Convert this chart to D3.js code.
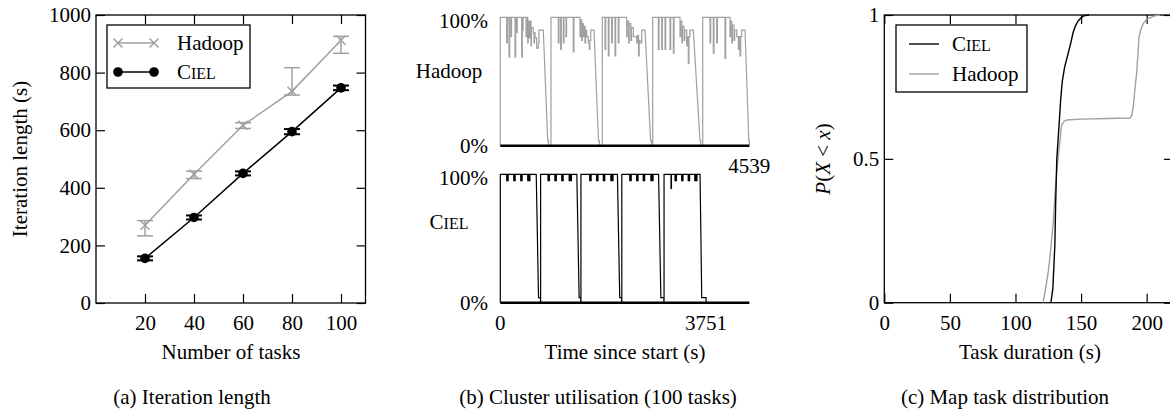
<!DOCTYPE html>
<html>
<head>
<meta charset="utf-8">
<script src="https://cdn.jsdelivr.net/npm/d3@7"></script>
<style>
  body { margin: 0; background: #fff; }
  text { font-family: "Liberation Serif", "Times New Roman", serif; font-size: 21px; fill: #000; }
</style>
</head>
<body>
<div id="chart"></div>
<script>
// (a) iteration length
var tasks = [20, 40, 60, 80, 100];
var hadoopIter = [270, 447, 617, 735, 912];
var hadoopLo = [233, 432, 606, 722, 867];
var hadoopHi = [286, 458, 626, 817, 926];
var cielIter = [155, 297, 450, 595, 747];
var cielLo = [148, 290, 443, 586, 739];
var cielHi = [162, 304, 457, 604, 755];
var iterTicks = [0, 200, 400, 600, 800, 1000];

// (b) cluster utilisation, level changes [time s, %] per cycle
var hadoopLevels = [
  [[0,100],[117,80],[129,100],[159,69],[171,100],[195,85],[205,100],[268,69],[280,100],[299,88],[309,100],[390,69],[402,100],[408,90],[416,100],[470,85],[478,100],[500,80],[508,97],[530,84],[538,97],[560,78],[568,92],[602,88],[615,80],[623,88],[633,84],[663,76],[693,80],[705,90]],
  [[924,100],[1058,80],[1070,100],[1100,75],[1112,100],[1149,80],[1161,100],[1198,85],[1208,100],[1331,73],[1343,100],[1453,85],[1463,98],[1483,82],[1493,95],[1513,85],[1523,93],[1544,80],[1556,90],[1575,85],[1604,80],[1622,75],[1634,82],[1648,90]],
  [[1859,100],[1909,75],[1921,100],[1969,70],[1981,100],[2030,80],[2042,100],[2091,70],[2103,100],[2151,80],[2163,100],[2304,85],[2314,97],[2340,80],[2350,95],[2380,82],[2392,92],[2425,85],[2487,80],[2500,86],[2520,70],[2532,82],[2547,80],[2578,90]],
  [[2778,100],[2881,75],[2893,100],[2942,75],[2954,100],[3003,75],[3015,100],[3094,75],[3106,100],[3155,72],[3167,100],[3276,85],[3286,97],[3310,80],[3320,93],[3350,82],[3362,90],[3398,78],[3410,85],[3427,64],[3439,85],[3458,90]],
  [[3690,100],[3823,80],[3835,100],[3883,72],[3895,100],[3945,80],[3957,100],[4096,68],[4108,100],[4187,85],[4197,97],[4220,80],[4230,94],[4260,82],[4272,90],[4310,85],[4339,75],[4351,85],[4370,70],[4382,85],[4400,90]]
];
// [ramp start, ramp end, back to 0]
var hadoopRamps = [[784, 864, 880], [1708, 1790, 1805], [2638, 2740, 2755], [3519, 3640, 3655], [4461, 4530, 4539]];

var cielLevels = [
  [[0,100],[117,95],[127,100],[133,95],[143,100],[245,95],[255,100],[261,95],[271,100],[372,95],[382,100],[388,95],[398,100],[500,95],[510,100],[516,95],[526,100],[532,95],[540,100]],
  [[735,100],[870,95],[880,100],[886,95],[896,100],[995,95],[1005,100],[1011,95],[1021,100],[1120,95],[1130,100],[1136,95],[1146,100],[1255,95],[1265,100],[1271,95],[1281,100],[1287,95],[1297,100]],
  [[1470,100],[1630,95],[1640,100],[1646,95],[1656,100],[1755,95],[1765,100],[1771,95],[1781,100],[1878,95],[1888,100],[1894,95],[1904,100],[2015,95],[2025,100],[2031,95],[2041,100],[2047,95],[2055,100]],
  [[2215,100],[2360,95],[2370,100],[2376,95],[2386,100],[2485,95],[2495,100],[2501,95],[2511,100],[2605,95],[2615,100],[2621,95],[2631,100],[2745,95],[2755,100],[2761,95],[2771,100],[2777,95],[2785,100]],
  [[2985,100],[3112,89],[3120,100],[3185,95],[3195,100],[3201,95],[3211,100],[3305,95],[3315,100],[3321,95],[3331,100],[3425,95],[3435,100],[3441,95],[3451,100],[3545,95],[3555,100],[3561,95],[3571,100],[3577,95],[3585,100]]
];
var cielRamps = [[655, 697, 732], [1395, 1437, 1467], [2135, 2177, 2212], [2885, 2927, 2982], [3641, 3672, 3751]];
var hadoopEnd = 4539;
var cielEnd = 3751;

// (c) map task duration CDF
var cielDur = [127, 128.5, 130, 130.6, 131.5, 133.4, 134.5, 135.7, 137.5, 139.8, 142, 144, 146, 147.9, 150, 152, 156];
var cielP = [0, 0.05, 0.2, 0.34, 0.5, 0.63, 0.71, 0.77, 0.82, 0.86, 0.9, 0.94, 0.965, 0.98, 0.99, 0.997, 1];
var hadoopDur = [121, 123, 125, 127, 128.8, 130, 131.4, 133.6, 135.2, 137, 139, 150, 170, 187.3, 188.5, 189.8, 191, 192.4, 193.3, 194.1, 195.5, 197.4, 200, 202.5, 206, 210];
var hadoopP = [0, 0.05, 0.108, 0.19, 0.28, 0.37, 0.455, 0.55, 0.618, 0.63, 0.635, 0.638, 0.64, 0.642, 0.65, 0.68, 0.74, 0.8, 0.86, 0.92, 0.95, 0.97, 0.985, 0.99, 0.997, 1];
var durTicks = [0, 50, 100, 150, 200];
var probTicks = [0, 0.5, 1];

var GREY = "#a0a0a0";

var svg = d3.select("#chart").append("svg")
  .attr("width", 1170).attr("height", 417);

function smallCaps(sel, first, rest) {
  sel.append("tspan").text(first);
  sel.append("tspan").style("font-size", "16px").text(rest);
}

function frame(g, x, y, xt, yt, xfmt, yfmt) {
  g.append("g").attr("transform", "translate(0," + y.range()[0] + ")")
    .call(d3.axisBottom(x).tickValues(xt).tickSize(-9).tickPadding(12).tickFormat(xfmt));
  g.append("g").attr("transform", "translate(0," + y.range()[1] + ")")
    .call(d3.axisTop(x).tickValues(xt).tickSize(-9).tickFormat(""));
  g.append("g").attr("transform", "translate(" + x.range()[0] + ",0)")
    .call(d3.axisLeft(y).tickValues(yt).tickSize(-9).tickPadding(5).tickFormat(yfmt));
  g.append("g").attr("transform", "translate(" + x.range()[1] + ",0)")
    .call(d3.axisRight(y).tickValues(yt).tickSize(-9).tickFormat(""));
  g.selectAll(".domain").remove();
  g.selectAll(".tick line").attr("stroke", "#000").attr("stroke-width", 1.2);
  g.selectAll(".tick text").attr("font-family", null).attr("font-size", null);
  g.append("rect")
    .attr("x", x.range()[0]).attr("y", y.range()[1])
    .attr("width", x.range()[1] - x.range()[0]).attr("height", y.range()[0] - y.range()[1])
    .attr("fill", "none").attr("stroke", "#000").attr("stroke-width", 1.3);
}

// ---------- (a) ----------
var xA = d3.scaleLinear().domain([0, 110]).range([96, 365.5]);
var yA = d3.scaleLinear().domain([0, 1000]).range([303, 15]);
var ga = svg.append("g");
frame(ga, xA, yA, tasks, iterTicks, d3.format("d"), d3.format("d"));

var line = d3.line();
function errBars(g, lo, hi, colour, w) {
  tasks.forEach(function(t, i) {
    var cx = xA(t);
    g.append("line").attr("x1", cx).attr("x2", cx).attr("y1", yA(lo[i])).attr("y2", yA(hi[i]))
      .attr("stroke", colour).attr("stroke-width", w);
    [lo[i], hi[i]].forEach(function(v) {
      g.append("line").attr("x1", cx - 8).attr("x2", cx + 8).attr("y1", yA(v)).attr("y2", yA(v))
        .attr("stroke", colour).attr("stroke-width", w);
    });
  });
}
errBars(ga, hadoopLo, hadoopHi, GREY, 1.5);
errBars(ga, cielLo, cielHi, "#000", 2);

ga.append("path").attr("d", line(tasks.map(function(t, i) { return [xA(t), yA(hadoopIter[i])]; })))
  .attr("fill", "none").attr("stroke", GREY).attr("stroke-width", 1.5);
ga.append("path").attr("d", line(tasks.map(function(t, i) { return [xA(t), yA(cielIter[i])]; })))
  .attr("fill", "none").attr("stroke", "#000").attr("stroke-width", 1.5);

function cross(g, cx, cy) {
  g.append("path").attr("d", "M" + (cx - 4.5) + "," + (cy - 4.5) + "L" + (cx + 4.5) + "," + (cy + 4.5) +
      "M" + (cx - 4.5) + "," + (cy + 4.5) + "L" + (cx + 4.5) + "," + (cy - 4.5))
    .attr("stroke", GREY).attr("stroke-width", 1.5);
}
tasks.forEach(function(t, i) {
  cross(ga, xA(t), yA(hadoopIter[i]));
  ga.append("circle").attr("cx", xA(t)).attr("cy", yA(cielIter[i])).attr("r", 4.8).attr("fill", "#000");
});

// legend (a)
var la = ga.append("g");
la.append("rect").attr("x", 107).attr("y", 25).attr("width", 143).attr("height", 63)
  .attr("fill", "#fff").attr("stroke", "#000").attr("stroke-width", 1.3);
la.append("line").attr("x1", 118).attr("x2", 154).attr("y1", 43).attr("y2", 43).attr("stroke", GREY).attr("stroke-width", 1.5);
cross(la, 118, 43); cross(la, 154, 43);
la.append("text").attr("x", 177).attr("y", 43).attr("dy", "0.35em").text("Hadoop");
la.append("line").attr("x1", 118).attr("x2", 154).attr("y1", 72).attr("y2", 72).attr("stroke", "#000").attr("stroke-width", 1.5);
la.append("circle").attr("cx", 118).attr("cy", 72).attr("r", 4.8);
la.append("circle").attr("cx", 154).attr("cy", 72).attr("r", 4.8);
smallCaps(la.append("text").attr("x", 177).attr("y", 72).attr("dy", "0.35em"), "C", "IEL");

ga.append("text").attr("transform", "translate(20,159) rotate(-90)").attr("text-anchor", "middle")
  .attr("dy", "0.35em").text("Iteration length (s)");
ga.append("text").attr("x", 231).attr("y", 352).attr("text-anchor", "middle").attr("dy", "0.35em").text("Number of tasks");
ga.append("text").attr("x", 192).attr("y", 397).attr("text-anchor", "middle").attr("dy", "0.35em").text("(a)  Iteration length");

// ---------- (b) ----------
var xB = d3.scaleLinear().domain([0, hadoopEnd]).range([500.3, 749.3]);
var yH = d3.scaleLinear().domain([0, 100]).range([145.7, 17.3]);
var yC = d3.scaleLinear().domain([0, 100]).range([302.7, 174.3]);
var gb = svg.append("g");

function utilPath(levels, ramps, endT) {
  var pts = [[0, 0]];
  levels.forEach(function(cyc, c) {
    var prev = 0;
    cyc.forEach(function(p) {
      pts.push([p[0], prev]);
      pts.push([p[0], p[1]]);
      prev = p[1];
    });
    var r = ramps[c];
    pts.push([r[0], prev]);
    pts.push([r[1], 4]);
    pts.push([r[2], 4]);
    pts.push([r[2], 0]);
  });
  pts.push([endT, 0]);
  return pts;
}

var hPts = utilPath(hadoopLevels, hadoopRamps, hadoopEnd);
var cPts = utilPath(cielLevels, cielRamps, hadoopEnd);
gb.append("path").attr("d", d3.line().x(function(d) { return xB(d[0]); }).y(function(d) { return yH(d[1]); })(hPts))
  .attr("fill", "none").attr("stroke", GREY).attr("stroke-width", 1.2);
gb.append("path").attr("d", d3.line().x(function(d) { return xB(d[0]); }).y(function(d) { return yC(d[1]); })(cPts))
  .attr("fill", "none").attr("stroke", "#000").attr("stroke-width", 1.2);

[yH, yC].forEach(function(y) {
  gb.append("line").attr("x1", xB(0)).attr("x2", xB(hadoopEnd)).attr("y1", y(0)).attr("y2", y(0))
    .attr("stroke", "#000").attr("stroke-width", 2.5);
  gb.append("text").attr("x", 488).attr("y", y(100) + 3).attr("dy", "0.35em").attr("text-anchor", "end").text("100%");
  gb.append("text").attr("x", 488).attr("y", y(0)).attr("dy", "0.35em").attr("text-anchor", "end").text("0%");
});
gb.append("text").attr("x", 449).attr("y", 71).attr("dy", "0.35em").attr("text-anchor", "middle").text("Hadoop");
smallCaps(gb.append("text").attr("x", 449).attr("y", 222).attr("dy", "0.35em").attr("text-anchor", "middle"), "C", "IEL");
gb.append("text").attr("x", xB(hadoopEnd)).attr("y", 166).attr("dy", "0.35em").attr("text-anchor", "middle").text(hadoopEnd);
gb.append("text").attr("x", xB(0)).attr("y", 323).attr("dy", "0.35em").attr("text-anchor", "middle").text("0");
gb.append("text").attr("x", xB(cielEnd)).attr("y", 323).attr("dy", "0.35em").attr("text-anchor", "middle").text(cielEnd);
gb.append("text").attr("x", 625).attr("y", 352).attr("text-anchor", "middle").attr("dy", "0.35em").text("Time since start (s)");
gb.append("text").attr("x", 598).attr("y", 397).attr("text-anchor", "middle").attr("dy", "0.35em").text("(b)  Cluster utilisation (100 tasks)");

// ---------- (c) ----------
var xC = d3.scaleLinear().domain([0, 220]).range([884.3, 1172.9]);
var yP = d3.scaleLinear().domain([0, 1]).range([302.7, 15]);
var gc = svg.append("g");
frame(gc, xC, yP, durTicks, probTicks, d3.format("d"), function(d) { return String(d); });

var cdf = d3.line().x(function(d) { return xC(d[0]); }).y(function(d) { return yP(d[1]); });
gc.append("path").attr("d", cdf(hadoopDur.map(function(d, i) { return [d, hadoopP[i]]; })))
  .attr("fill", "none").attr("stroke", GREY).attr("stroke-width", 1.4);
gc.append("path").attr("d", cdf(cielDur.map(function(d, i) { return [d, cielP[i]]; })))
  .attr("fill", "none").attr("stroke", "#000").attr("stroke-width", 1.4);

var lc = gc.append("g");
lc.append("rect").attr("x", 896).attr("y", 25).attr("width", 131).attr("height", 67)
  .attr("fill", "#fff").attr("stroke", "#000").attr("stroke-width", 1.3);
lc.append("line").attr("x1", 909).attr("x2", 939).attr("y1", 44).attr("y2", 44).attr("stroke", "#000").attr("stroke-width", 1.4);
smallCaps(lc.append("text").attr("x", 952).attr("y", 44).attr("dy", "0.35em"), "C", "IEL");
lc.append("line").attr("x1", 909).attr("x2", 939).attr("y1", 74).attr("y2", 74).attr("stroke", GREY).attr("stroke-width", 1.4);
lc.append("text").attr("x", 952).attr("y", 74).attr("dy", "0.35em").text("Hadoop");

var yl = gc.append("text").attr("transform", "translate(823,159) rotate(-90)").attr("text-anchor", "middle").attr("dy", "0.35em");
yl.append("tspan").style("font-style", "italic").text("P");
yl.append("tspan").text("(");
yl.append("tspan").style("font-style", "italic").text("X");
yl.append("tspan").text(" < ");
yl.append("tspan").style("font-style", "italic").text("x");
yl.append("tspan").text(")");
gc.append("text").attr("x", 1030).attr("y", 352).attr("text-anchor", "middle").attr("dy", "0.35em").text("Task duration (s)");
gc.append("text").attr("x", 1005).attr("y", 397).attr("text-anchor", "middle").attr("dy", "0.35em").text("(c)  Map task distribution");
</script>
</body>
</html>
